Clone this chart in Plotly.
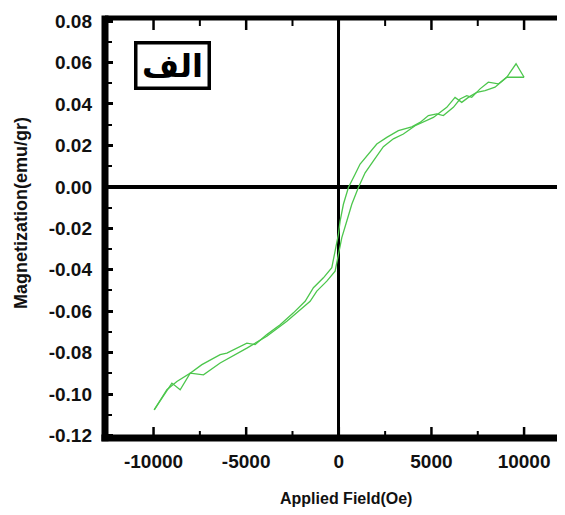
import plotly.graph_objects as go

# ascending branch (lower curve), field in Oe, magnetization in emu/gr
field_up = [-9965, -9280, -8740, -8022, -7305, -6404, -4963, -3884, -2805, -1548,
            -1187, -647, -200, -22, 162, 432, 701, 1057, 1419, 1867,
            2406, 2946, 3485, 4116, 5104, 5827, 6274, 6636, 6992, 7445,
            7893, 8432, 9064, 9566, 10000]
m_up = [-0.1076, -0.0979, -0.0939, -0.0899, -0.0907, -0.0850, -0.0778, -0.0721, -0.0649, -0.0552,
        -0.0503, -0.0455, -0.0407, -0.0326, -0.0245, -0.0165, -0.0084, -0.0003, 0.0068, 0.0126,
        0.0194, 0.0232, 0.0255, 0.0295, 0.0335, 0.0384, 0.0432, 0.0408, 0.0432, 0.0456,
        0.0465, 0.0481, 0.0529, 0.0594, 0.0529]

# descending branch (upper curve)
field_down = [10000, 9064, 8610, 8071, 7623, 7175, 6906, 6544, 6183, 5643,
              5287, 4834, 4386, 3938, 3215, 2590, 2050, 1511, 1149, 879,
              518, 248, 70, -22, -200, -378, -831, -1370, -1818, -2449,
              -3167, -3884, -4516, -4963, -6042, -6404, -7391, -8022, -8562, -9010,
              -9965]
m_down = [0.0529, 0.0529, 0.0497, 0.0505, 0.0473, 0.0432, 0.0440, 0.0424, 0.0384, 0.0344,
          0.0352, 0.0344, 0.0311, 0.0290, 0.0271, 0.0239, 0.0207, 0.0150, 0.0110, 0.0061,
          -0.0003, -0.0084, -0.0165, -0.0229, -0.0310, -0.0390, -0.0439, -0.0487, -0.0552, -0.0608,
          -0.0665, -0.0713, -0.0761, -0.0754, -0.0802, -0.0810, -0.0858, -0.0899, -0.0979, -0.0947,
          -0.1076]

x_ticks = [-10000, -5000, 0, 5000, 10000]
y_ticks = [-0.12, -0.10, -0.08, -0.06, -0.04, -0.02, 0.00, 0.02, 0.04, 0.06, 0.08]
y_ticktext = ['%.2f' % v for v in y_ticks]
x_range = [-12620, 11777]

green = '#4cc64c'
tick_font = dict(family='Liberation Sans', size=19, color='#111111', weight='bold')

fig = go.Figure()
fig.add_trace(go.Scatter(x=field_up, y=m_up, mode='lines',
                         line=dict(color=green, width=1.3), showlegend=False))
fig.add_trace(go.Scatter(x=field_down, y=m_down, mode='lines',
                         line=dict(color=green, width=1.3), showlegend=False))

# the page body keeps an 8px margin, so the figure is sized to fit inside the window
fig.update_layout(
    width=549, height=499,
    margin=dict(l=97, r=0, t=10, b=69, autoexpand=False),
    paper_bgcolor='white', plot_bgcolor='white',
)

fig.update_xaxes(range=x_range, tickvals=x_ticks, ticktext=[str(v) for v in x_ticks],
                 tickfont=tick_font, showgrid=False, automargin=False, showline=False,
                 ticks='', zeroline=True, zerolinecolor='black', zerolinewidth=3,
                 ticklabelstandoff=10)
fig.update_yaxes(range=[-0.1212, 0.0815], tickvals=y_ticks, ticktext=y_ticktext,
                 tickfont=tick_font, showgrid=False, showline=False, automargin=False,
                 ticks='inside', ticklen=8, tickwidth=2.5, tickcolor='black',
                 minor=dict(dtick=0.01, tick0=0, ticks='inside', ticklen=7, tickwidth=2, tickcolor='black'),
                 zeroline=True, zerolinecolor='black', zerolinewidth=4,
                 ticklabelstandoff=12)

# thick frame: left, top, bottom (right side is cut off)
fig.add_shape(type='line', xref='paper', yref='paper', x0=0, x1=0, y0=-0.008, y1=1.006,
              line=dict(color='black', width=7))
fig.add_shape(type='line', xref='paper', yref='paper', x0=0, x1=1, y0=1, y1=1,
              line=dict(color='black', width=5))
fig.add_shape(type='line', xref='paper', yref='paper', x0=-0.008, x1=1, y0=0, y1=0,
              line=dict(color='black', width=7))

# x ticks on the bottom and top edges (major at labels, minor half way)
minor_x = [(a + b) / 2 for a, b in zip(x_ticks[:-1], x_ticks[1:])]
for xv, ln, w in [(v, 11, 2.5) for v in x_ticks] + [(v, 7, 2) for v in minor_x]:
    fig.add_shape(type='line', xref='x', yref='paper', ysizemode='pixel', yanchor=0,
                  x0=xv, x1=xv, y0=0, y1=ln, line=dict(color='black', width=w))
    fig.add_shape(type='line', xref='x', yref='paper', ysizemode='pixel', yanchor=1,
                  x0=xv, x1=xv, y0=0, y1=-(ln + 1), line=dict(color='black', width=w))

# panel label
fig.add_annotation(xref='paper', yref='paper', x=0.1493, y=0.888, xanchor='center', yanchor='middle',
                   text='<b>الف</b>', showarrow=False,
                   font=dict(family='DejaVu Sans', size=32, color='black'),
                   width=68, height=40, borderpad=1, bordercolor='black', borderwidth=3.5,
                   bgcolor='white')

# axis titles
fig.add_annotation(xref='paper', yref='paper', x=0.5332, y=-0.1429, xanchor='center', yanchor='middle',
                   text='<b>Applied Field(Oe)</b>', showarrow=False,
                   font=dict(family='Liberation Sans', size=16, color='#111111'))
fig.add_annotation(xref='paper', yref='paper', x=-0.1858, y=0.5357, xanchor='center', yanchor='middle',
                   text='<b>Magnetization(emu/gr)</b>', showarrow=False, textangle=-90,
                   font=dict(family='Liberation Sans', size=18, color='#111111'))

fig.write_html("out.html")
